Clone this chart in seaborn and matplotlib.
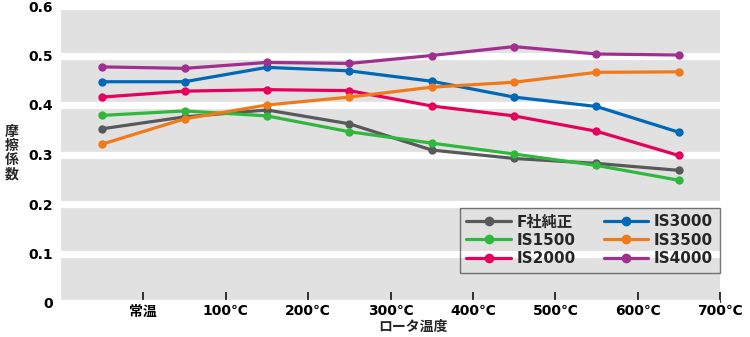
import numpy as np
import pandas as pd
import matplotlib
matplotlib.use("Agg")
import matplotlib.pyplot as plt
from matplotlib.lines import Line2D
import seaborn as sns

# Rotor temperature categories (tick labels sit on the right edge of each bin)
temp_labels = ["常温", "100℃", "200℃", "300℃", "400℃", "500℃", "600℃", "700℃"]

# Friction coefficient per pad type
f_genuine = [0.352, 0.376, 0.390, 0.362, 0.309, 0.292, 0.282, 0.268]
is1500 = [0.379, 0.388, 0.378, 0.346, 0.323, 0.301, 0.278, 0.248]
is2000 = [0.416, 0.428, 0.431, 0.429, 0.398, 0.378, 0.347, 0.298]
is3000 = [0.447, 0.447, 0.476, 0.469, 0.448, 0.416, 0.397, 0.345]
is3500 = [0.321, 0.372, 0.400, 0.416, 0.436, 0.446, 0.466, 0.467]
is4000 = [0.477, 0.474, 0.486, 0.484, 0.500, 0.518, 0.503, 0.501]

series_names = ["F社純正", "IS1500", "IS2000", "IS3000", "IS3500", "IS4000"]
series_values = [f_genuine, is1500, is2000, is3000, is3500, is4000]
series_colors = ["#58595b", "#2fb83c", "#e6005a", "#0068b7", "#f07a19", "#a02f8e"]

y_ticks = [0, 0.1, 0.2, 0.3, 0.4, 0.5, 0.6]
y_tick_labels = ["0", "0.1", "0.2", "0.3", "0.4", "0.5", "0.6"]

sns.set_theme(style="white")
font_list = ["DejaVu Sans", "Noto Sans CJK JP"]
plt.rcParams["font.family"] = font_list
plt.rcParams["font.weight"] = "bold"

rows = []
for name, vals in zip(series_names, series_values):
    for i, v in enumerate(vals):
        rows.append({"pos": i, "mu": v, "pad": name})
df = pd.DataFrame(rows)

fig = plt.figure(figsize=(7.5, 3.37), dpi=100)
ax = fig.add_axes([61 / 750, 1 - 303 / 337, 659 / 750, 297 / 337])
ax.set_facecolor("#e1e1e1")
ax.set_axisbelow(True)

# white separator bands at each gridline
for yv in y_ticks:
    ax.axhline(yv, color="white", lw=5.2, zorder=1)

sns.lineplot(data=df, x="pos", y="mu", hue="pad", hue_order=series_names,
             palette=series_colors, marker="o", markersize=6,
             markeredgewidth=0, linewidth=2.3, legend=False, ax=ax, zorder=3)

ax.set_xlim(-0.5, len(temp_labels) - 0.5)
ax.set_ylim(0, 0.6)
ax.set_xticks(np.arange(len(temp_labels)) + 0.5)
ax.set_xticklabels(temp_labels)
ax.set_yticks(y_ticks)
ax.set_yticklabels(y_tick_labels)
ax.tick_params(axis="x", bottom=True, direction="in", length=8, width=1.3,
               color="#222222", pad=1, labelsize=10)
ax.tick_params(axis="y", left=False, length=0, pad=6, labelsize=10)
for lab in ax.get_xticklabels() + ax.get_yticklabels():
    lab.set_fontweight("bold")
    lab.set_color("black")
for s in ax.spines.values():
    s.set_visible(False)
ax.set_xlabel("")
ax.set_ylabel("")

handles = [Line2D([], [], color=c, lw=2.3, marker="o", markersize=7,
                  markeredgewidth=0) for c in series_colors]
leg = ax.legend(handles, series_names, ncol=2, loc="lower right",
                bbox_to_anchor=(1.0, 0.101), borderaxespad=0,
                prop={"weight": "bold", "size": 11, "family": font_list},
                handlelength=2.9, handletextpad=0.4, columnspacing=1.8,
                labelspacing=0.22, borderpad=0.45, fancybox=False,
                frameon=True)
leg.get_frame().set_facecolor("none")
leg.get_frame().set_edgecolor("#555555")
leg.get_frame().set_linewidth(1.0)

fig.text(12 / 750, 1 - 153 / 337, "摩\n擦\n係\n数", ha="center", va="center",
         fontsize=10, fontweight="bold", linespacing=1.0, family=font_list)
fig.text(413 / 750, 1 - 327 / 337, "ロータ温度", ha="center", va="center",
         fontsize=10, fontweight="bold", family=font_list)

fig.savefig("out.png", dpi=100)
